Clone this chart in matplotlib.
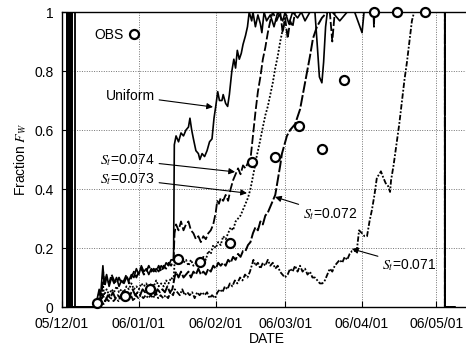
import datetime
import numpy as np
import matplotlib
matplotlib.use("Agg")
import matplotlib.pyplot as plt
import matplotlib.dates as mdates
from matplotlib.ticker import FuncFormatter, MultipleLocator

plt.rcParams['font.family'] = ['Liberation Sans', 'DejaVu Sans']
plt.rcParams['mathtext.fontset'] = 'stix'

# days since 2005-12-01, fraction Fw
uniform = [(2.0, 0), (2.0, 1), (5.4, 1), (5.4, 0), (13.0, 0), (14.0, 0.02), (15.0, 0.06), (15.5, 0.03),
           (16.5, 0.14), (17.0, 0.08), (18.0, 0.11), (19.0, 0.07), (20.0, 0.10), (21.0, 0.08), (22.0, 0.10),
           (23.0, 0.07), (24.0, 0.09), (25.0, 0.08), (26.0, 0.10), (27.0, 0.09), (28.0, 0.11), (29.0, 0.10),
           (30.0, 0.13), (31.0, 0.11), (32.0, 0.14), (33.0, 0.12), (34.0, 0.13), (35.0, 0.11), (36.0, 0.13),
           (37.0, 0.12), (38.0, 0.13), (39.0, 0.12), (40.0, 0.14), (41.0, 0.13), (42.0, 0.15), (43.0, 0.14),
           (44.0, 0.16), (45.0, 0.16), (45.3, 0.55), (46.0, 0.58), (47.0, 0.56), (48.0, 0.59), (49.0, 0.58),
           (50.0, 0.60), (51.0, 0.61), (51.6, 0.64), (52.3, 0.60), (53.0, 0.57), (54.0, 0.53), (55.0, 0.52),
           (55.6, 0.50), (56.5, 0.52), (57.5, 0.51), (58.5, 0.53), (59.5, 0.56), (60.5, 0.57), (61.3, 0.64),
           (62.0, 0.68), (62.8, 0.73), (63.5, 0.70), (64.5, 0.70), (65.0, 0.72), (66.0, 0.69), (66.8, 0.68),
           (67.5, 0.72), (68.5, 0.80), (69.3, 0.84), (70.0, 0.81), (70.7, 0.87), (71.5, 0.84), (72.3, 0.86),
           (73.0, 0.89), (74.0, 0.92), (74.8, 0.95), (75.5, 1.0), (76.5, 0.97), (77.0, 1.0), (78.0, 0.95),
           (79.0, 0.99), (80.0, 0.96), (80.6, 0.93), (81.5, 1.0), (82.5, 0.97), (84.0, 0.99), (85.5, 0.95),
           (87.0, 1.0), (89.0, 0.97), (90.0, 1.0), (91.5, 0.96), (93.0, 1.0), (95.0, 0.98), (96.5, 1.0),
           (98.0, 0.97), (100.0, 1.0), (102.0, 1.0), (103.0, 0.88), (103.8, 0.78), (104.8, 0.76),
           (105.5, 0.83), (106.3, 0.95), (107.0, 1.0), (109.0, 1.0), (112.0, 0.97), (115.0, 1.0),
           (118.0, 1.0), (121.0, 0.93), (121.8, 1.0), (154.4, 1.0), (154.4, 0), (158.5, 0)]

st074 = [(2.5, 0), (2.5, 1), (3.9, 1), (3.9, 0), (13.0, 0), (14.0, 0.01), (15.0, 0.05), (16.0, 0.04),
         (16.6, 0.12), (17.2, 0.07), (18.0, 0.10), (19.0, 0.08), (20.0, 0.11), (21.0, 0.09), (22.0, 0.08),
         (23.0, 0.10), (24.0, 0.08), (25.0, 0.09), (26.0, 0.11), (27.0, 0.08), (28.0, 0.10), (29.0, 0.12),
         (30.0, 0.10), (31.0, 0.12), (32.0, 0.13), (33.0, 0.11), (34.0, 0.12), (35.0, 0.14), (36.0, 0.12),
         (37.0, 0.13), (38.0, 0.12), (39.0, 0.14), (40.0, 0.12), (41.0, 0.14), (42.0, 0.13), (43.0, 0.15),
         (44.0, 0.14), (45.0, 0.16), (45.4, 0.25), (46.0, 0.28), (47.0, 0.26), (48.0, 0.29), (49.0, 0.26),
         (50.0, 0.28), (51.0, 0.29), (52.0, 0.26), (53.0, 0.25), (54.0, 0.23), (55.0, 0.24), (56.0, 0.22),
         (57.0, 0.24), (58.0, 0.23), (59.0, 0.25), (60.0, 0.26), (61.0, 0.28), (62.0, 0.32), (62.6, 0.36),
         (63.3, 0.35), (64.0, 0.37), (65.0, 0.36), (66.0, 0.38), (67.0, 0.36), (68.0, 0.40), (69.0, 0.43),
         (70.0, 0.45), (71.0, 0.47), (72.0, 0.45), (73.0, 0.48), (74.0, 0.47), (75.0, 0.49), (76.0, 0.50),
         (77.0, 0.58), (78.0, 0.66), (79.0, 0.73), (80.0, 0.78), (81.0, 0.84), (82.0, 0.88), (83.0, 0.93),
         (84.0, 0.97), (85.0, 1.0), (86.5, 0.97), (88.0, 1.0), (89.0, 0.93), (90.0, 0.98), (91.0, 0.91),
         (92.0, 0.97), (93.0, 0.95), (94.0, 1.0), (108.0, 1.0), (109.0, 0.90), (110.0, 1.0),
         (125.6, 1.0), (125.8, 0.95), (126.0, 1.0), (154.4, 1.0), (154.4, 0), (158.5, 0)]

st073 = [(3.0, 0), (3.0, 1), (3.6, 1), (3.6, 0), (13.0, 0), (14.0, 0.01), (15.0, 0.03), (16.0, 0.02),
         (16.5, 0.08), (17.0, 0.04), (18.0, 0.06), (19.0, 0.04), (20.0, 0.06), (21.0, 0.05), (22.0, 0.07),
         (23.0, 0.05), (24.0, 0.06), (25.0, 0.05), (26.0, 0.07), (27.0, 0.06), (28.0, 0.08), (29.0, 0.06),
         (30.0, 0.07), (31.0, 0.06), (32.0, 0.08), (33.0, 0.07), (34.0, 0.08), (35.0, 0.06), (36.0, 0.08),
         (37.0, 0.07), (38.0, 0.09), (39.0, 0.07), (40.0, 0.08), (41.0, 0.07), (42.0, 0.09), (43.0, 0.08),
         (44.0, 0.10), (45.0, 0.09), (45.4, 0.15), (46.0, 0.17), (47.0, 0.15), (48.0, 0.17), (49.0, 0.15),
         (50.0, 0.16), (51.0, 0.14), (52.0, 0.16), (53.0, 0.14), (54.0, 0.15), (55.0, 0.14), (56.0, 0.16),
         (57.0, 0.17), (58.0, 0.16), (59.0, 0.19), (60.0, 0.18), (61.0, 0.21), (62.0, 0.20), (63.0, 0.22),
         (64.0, 0.21), (65.0, 0.24), (66.0, 0.23), (67.0, 0.25), (68.0, 0.27), (69.0, 0.26), (70.0, 0.29),
         (71.0, 0.30), (72.0, 0.31), (73.0, 0.33), (74.0, 0.35), (75.0, 0.37), (76.0, 0.40), (77.4, 0.46),
         (78.5, 0.51), (79.8, 0.56), (81.0, 0.61), (82.0, 0.65), (83.0, 0.68), (84.0, 0.72), (85.0, 0.76),
         (86.0, 0.81), (87.0, 0.85), (88.0, 0.90), (89.0, 0.94), (89.8, 0.97), (91.0, 1.0),
         (154.4, 1.0), (154.4, 0), (158.5, 0)]

st072 = [(3.3, 0), (3.3, 1), (4.2, 1), (4.2, 0), (13.5, 0), (14.5, 0.01), (15.5, 0.02), (16.5, 0.04),
         (17.5, 0.02), (18.5, 0.04), (19.5, 0.03), (20.5, 0.05), (21.5, 0.03), (22.5, 0.04), (23.5, 0.03),
         (24.5, 0.05), (25.5, 0.04), (26.5, 0.05), (27.5, 0.04), (28.5, 0.06), (29.5, 0.04), (30.5, 0.05),
         (31.5, 0.04), (32.5, 0.06), (33.5, 0.05), (34.5, 0.06), (35.5, 0.05), (36.5, 0.06), (37.5, 0.04),
         (38.5, 0.06), (39.5, 0.05), (40.5, 0.06), (41.5, 0.05), (42.5, 0.07), (43.5, 0.05), (44.5, 0.06),
         (45.4, 0.10), (46.0, 0.12), (47.0, 0.10), (48.0, 0.12), (49.0, 0.10), (50.0, 0.11), (51.0, 0.12),
         (52.0, 0.10), (53.0, 0.12), (54.0, 0.11), (55.0, 0.13), (56.0, 0.11), (57.0, 0.12), (58.0, 0.11),
         (59.0, 0.13), (60.0, 0.12), (61.0, 0.14), (62.0, 0.13), (63.0, 0.15), (64.0, 0.14), (65.0, 0.15),
         (66.0, 0.14), (67.0, 0.16), (68.0, 0.15), (69.0, 0.17), (70.0, 0.16), (71.0, 0.18), (72.0, 0.17),
         (73.0, 0.19), (74.0, 0.19), (75.0, 0.21), (76.0, 0.22), (77.0, 0.25), (78.0, 0.27), (79.0, 0.26),
         (80.0, 0.29), (81.0, 0.28), (82.0, 0.31), (83.0, 0.32), (84.0, 0.34), (85.0, 0.36), (86.0, 0.38),
         (87.0, 0.43), (88.0, 0.48), (88.7, 0.52), (89.7, 0.55), (90.7, 0.58), (92.0, 0.60), (94.0, 0.62),
         (96.0, 0.67), (98.0, 0.76), (100.0, 0.85), (101.2, 0.91), (102.8, 0.95), (104.8, 0.98),
         (107.0, 1.0), (154.4, 1.0), (154.4, 0), (158.5, 0)]

st071 = [(2.2, 0), (2.2, 1), (3.4, 1), (3.4, 0), (13.8, 0), (14.8, 0.01), (15.8, 0.02), (16.8, 0.01),
         (17.8, 0.03), (18.8, 0.02), (19.8, 0.03), (20.8, 0.02), (21.8, 0.03), (22.8, 0.02), (23.8, 0.04),
         (24.8, 0.02), (25.8, 0.03), (26.8, 0.03), (27.8, 0.04), (28.8, 0.02), (29.8, 0.04), (30.8, 0.03),
         (31.8, 0.04), (32.8, 0.03), (33.8, 0.04), (34.8, 0.03), (35.8, 0.04), (36.8, 0.03), (37.8, 0.05),
         (38.8, 0.03), (39.8, 0.04), (40.8, 0.03), (41.8, 0.04), (42.8, 0.03), (43.8, 0.05), (44.8, 0.04),
         (45.5, 0.06), (46.5, 0.05), (47.5, 0.04), (48.5, 0.06), (49.5, 0.04), (50.5, 0.05), (51.5, 0.04),
         (52.5, 0.05), (53.5, 0.03), (54.5, 0.05), (55.5, 0.04), (56.5, 0.05), (57.5, 0.04), (58.5, 0.05),
         (59.5, 0.03), (60.5, 0.04), (61.7, 0.03), (62.7, 0.05), (63.7, 0.06), (64.7, 0.05), (65.7, 0.07),
         (66.7, 0.06), (67.7, 0.08), (68.7, 0.07), (69.7, 0.09), (70.7, 0.08), (71.8, 0.10), (72.8, 0.09),
         (73.8, 0.11), (74.8, 0.10), (75.8, 0.12), (76.5, 0.14), (77.2, 0.16), (78.0, 0.14), (79.0, 0.15),
         (80.0, 0.13), (81.0, 0.15), (82.0, 0.14), (83.0, 0.16), (84.0, 0.14), (85.0, 0.15), (86.0, 0.13),
         (87.0, 0.14), (87.9, 0.12), (88.9, 0.11), (89.9, 0.10), (91.0, 0.11), (92.0, 0.13), (93.0, 0.12),
         (94.0, 0.14), (95.0, 0.12), (96.0, 0.14), (97.0, 0.12), (98.0, 0.13), (99.0, 0.11), (100.0, 0.12),
         (101.0, 0.10), (102.0, 0.10), (103.0, 0.09), (104.0, 0.08), (105.0, 0.08), (106.0, 0.09),
         (107.0, 0.11), (108.0, 0.13), (109.0, 0.12), (110.0, 0.14), (111.0, 0.15), (112.0, 0.16),
         (113.0, 0.15), (114.0, 0.17), (115.0, 0.16), (116.0, 0.18), (117.0, 0.19), (118.0, 0.19),
         (119.0, 0.20), (119.8, 0.26), (121.0, 0.25), (122.0, 0.24), (123.0, 0.24), (124.0, 0.29),
         (125.0, 0.33), (126.0, 0.38), (127.0, 0.44), (128.0, 0.45), (128.6, 0.46), (129.5, 0.44),
         (130.5, 0.42), (131.5, 0.41), (132.3, 0.39), (132.7, 0.43), (133.7, 0.48), (134.7, 0.54),
         (136.0, 0.62), (137.1, 0.70), (138.1, 0.77), (139.1, 0.83), (140.1, 0.90), (141.1, 0.97),
         (142.0, 1.0), (154.4, 1.0), (154.4, 0), (158.5, 0)]

obs_days = [14.1, 25.4, 35.5, 46.8, 55.6, 67.7, 76.6, 85.9, 95.6, 104.8, 113.7, 125.8, 135.0, 146.4]
obs_vals = [0.014, 0.037, 0.061, 0.163, 0.153, 0.217, 0.49, 0.508, 0.614, 0.536, 0.77, 1.0, 1.0, 1.0]

base = mdates.date2num(datetime.date(2005, 12, 1))


def xy(series):
    d, v = zip(*series)
    return base + np.array(d), np.array(v)


fig = plt.figure(figsize=(4.66, 3.45), dpi=100)
ax = fig.add_axes([0.1330, 0.1101, 0.8781, 0.8551])

styles = [(uniform, None, 1.2), (st074, (5, 1.5), 1.3), (st073, (1, 1), 1.3),
          (st072, (6, 1.2), 1.4), (st071, (3, 1, 1, 1), 1.3)]
for series, dash, lw in styles:
    x, v = xy(series)
    # initial spike drawn solid, the rest with the curve's dash pattern
    ax.plot(x[:4], v[:4], color='black', lw=1.3)
    line, = ax.plot(x[3:], v[3:], color='black', lw=lw)
    if dash is not None:
        line.set_dashes(dash)

ax.plot(base + np.array(obs_days), obs_vals, 'o', ms=6.5, mfc='white', mec='black',
        mew=1.6, ls='none', label='OBS', zorder=5, clip_on=False)

ax.set_xlim(base, base + 165)
ax.set_ylim(0, 1)
ax.xaxis.set_major_locator(mdates.MonthLocator())
ax.xaxis.set_major_formatter(mdates.DateFormatter('%y/%m/%d'))
ax.yaxis.set_major_locator(MultipleLocator(0.2))
ax.yaxis.set_major_formatter(FuncFormatter(lambda v, p: '%g' % round(v, 2)))
ax.tick_params(direction='in', length=4, labelsize=10, width=0.8)
ax.tick_params(axis='x', pad=7)
ax.tick_params(axis='y', pad=6)
ax.grid(True, color='0.45', lw=0.7, dashes=(1, 1.5))
for s in ax.spines.values():
    s.set_linewidth(1.0)

ax.set_xlabel('DATE', fontsize=10, labelpad=1)
ax.set_ylabel('Fraction $F_W$', fontsize=10, labelpad=4)

ax.legend(loc='upper left', bbox_to_anchor=(0.055, 0.98), markerfirst=False, frameon=False,
          handlelength=0.8, handletextpad=0.35, borderpad=0.2, fontsize=10)

arrow = dict(arrowstyle='-|>', color='black', lw=0.8, mutation_scale=9, shrinkA=1, shrinkB=0)
ax.annotate('Uniform', xy=(base + 60.9, 0.678), xytext=(base + 37.5, 0.715),
            ha='right', va='center', fontsize=10, arrowprops=arrow)
ax.annotate('$S_t$=0.074', xy=(base + 69.8, 0.458), xytext=(base + 37.5, 0.498),
            ha='right', va='center', fontsize=10, arrowprops=arrow)
ax.annotate('$S_t$=0.073', xy=(base + 74.6, 0.386), xytext=(base + 37.5, 0.434),
            ha='right', va='center', fontsize=10, arrowprops=arrow)
ax.annotate('$S_t$=0.072', xy=(base + 85.9, 0.373), xytext=(base + 108.0, 0.315),
            ha='center', va='center', fontsize=10, arrowprops=arrow)
ax.annotate('$S_t$=0.071', xy=(base + 116.9, 0.197), xytext=(base + 140.0, 0.142),
            ha='center', va='center', fontsize=10, arrowprops=arrow)

fig.savefig('out.png', dpi=100)
